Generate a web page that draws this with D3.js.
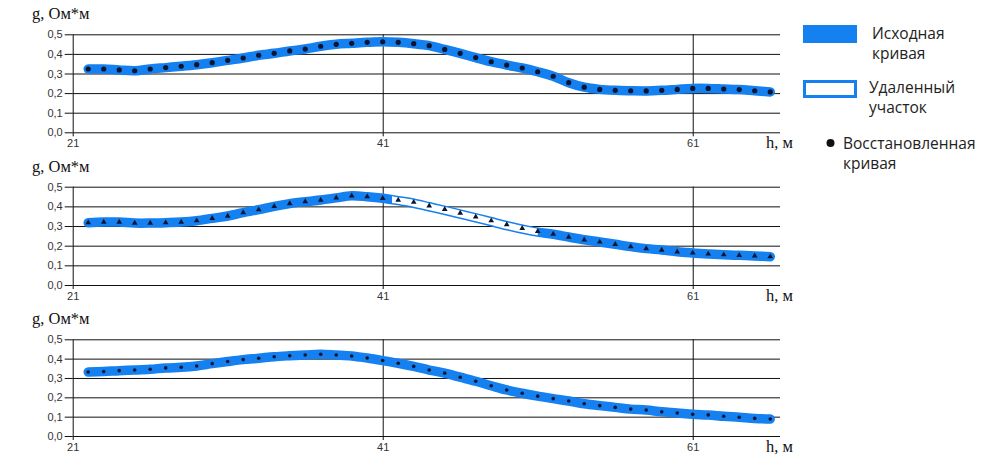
<!DOCTYPE html>
<html>
<head>
<meta charset="utf-8">
<script src="https://cdn.jsdelivr.net/npm/d3@7"></script>
<style>
  body { margin: 0; background: #fff; }
  .tick text { font-family: Arial, "Liberation Sans", sans-serif; font-size: 11px; fill: #333; }
  .serif { font-family: "Liberation Serif", "DejaVu Serif", serif; font-size: 16.5px; fill: #111; }
  .leg { font-family: "Open Sans", "Noto Sans", sans-serif; font-size: 15.5px; fill: #222; }
</style>
</head>
<body>
<svg id="chart" width="986" height="460"></svg>
<script>
// depth, m
var depth = d3.range(22, 67);

// panel 1: original curve (restored points coincide)
var orig1 = [0.323, 0.323, 0.318, 0.314, 0.323, 0.330, 0.337, 0.345, 0.355, 0.367,
  0.379, 0.393, 0.403, 0.415, 0.425, 0.439, 0.449, 0.454, 0.459, 0.462,
  0.459, 0.452, 0.442, 0.423, 0.403, 0.381, 0.360, 0.343, 0.328, 0.309,
  0.286, 0.253, 0.230, 0.219, 0.214, 0.212, 0.211, 0.214, 0.219, 0.224,
  0.224, 0.221, 0.218, 0.212, 0.206];

// panel 2: original curve
var orig2 = [0.317, 0.320, 0.320, 0.315, 0.315, 0.317, 0.320, 0.327, 0.339, 0.351,
  0.368, 0.383, 0.400, 0.414, 0.424, 0.432, 0.443, 0.454, 0.449, 0.441,
  0.429, 0.416, 0.398, 0.380, 0.361, 0.342, 0.322, 0.302, 0.284, 0.269,
  0.258, 0.244, 0.230, 0.219, 0.207, 0.195, 0.185, 0.178, 0.169, 0.163,
  0.158, 0.154, 0.151, 0.148, 0.144];
// panel 2: restored curve
var rest2 = [0.317, 0.320, 0.320, 0.315, 0.315, 0.317, 0.320, 0.327, 0.339, 0.351,
  0.368, 0.383, 0.400, 0.414, 0.424, 0.432, 0.443, 0.454, 0.449, 0.441,
  0.432, 0.421, 0.403, 0.385, 0.366, 0.347, 0.327, 0.307, 0.288, 0.273,
  0.259, 0.244, 0.230, 0.219, 0.207, 0.195, 0.185, 0.178, 0.169, 0.163,
  0.158, 0.154, 0.151, 0.148, 0.144];
// removed section of panel 2
var removed = [41.6, 51];

// panel 3: original curve (restored points coincide)
var orig3 = [0.331, 0.333, 0.338, 0.341, 0.345, 0.352, 0.355, 0.362, 0.374, 0.385,
  0.395, 0.402, 0.410, 0.415, 0.419, 0.423, 0.419, 0.414, 0.403, 0.390,
  0.376, 0.360, 0.341, 0.325, 0.304, 0.283, 0.260, 0.238, 0.221, 0.206,
  0.193, 0.181, 0.167, 0.157, 0.148, 0.139, 0.134, 0.125, 0.119, 0.112,
  0.109, 0.102, 0.097, 0.091, 0.088];

var yTicks = [0, 0.1, 0.2, 0.3, 0.4, 0.5];
var xTicks = [21, 41, 61];
var legendLabels = [["Исходная", "кривая"], ["Удаленный", "участок"], ["Восстановленная", "кривая"]];

var blue = "#1580f0";
var svg = d3.select("#chart");

var x = d3.scaleLinear().domain([21, 66.63]).range([72.7, 780]);

var panels = [
  { top: 34.3, bottom: 132.3, line: orig1, pts: orig1, marker: "circle" },
  { top: 186.7, bottom: 285, line: orig2, pts: rest2, marker: "triangle", gap: removed },
  { top: 339.3, bottom: 436, line: orig3, pts: orig3, marker: "dot" }
];

panels.forEach(function(p) {
  var y = d3.scaleLinear().domain([0, 0.5]).range([p.bottom, p.top]);
  var g = svg.append("g");

  // horizontal gridlines
  g.append("g")
    .attr("transform", "translate(" + x(21) + ",0)")
    .call(d3.axisLeft(y).tickValues(yTicks).tickSize(8)
      .tickFormat(function(d) { return d3.format(".1f")(d).replace(".", ","); }))
    .call(function(a) {
      a.select(".domain").remove();
      a.selectAll(".tick line").attr("stroke", "#111");
      a.selectAll(".tick").append("line")
        .attr("x2", x.range()[1] - x(21)).attr("stroke", "#111");
      a.selectAll(".tick text").attr("x", -10);
    });

  // vertical gridlines + x ticks
  g.append("g")
    .attr("transform", "translate(0," + p.bottom + ")")
    .call(d3.axisBottom(x).tickValues(xTicks).tickSize(4).tickFormat(d3.format("d")))
    .call(function(a) {
      a.select(".domain").remove();
      a.selectAll(".tick line").attr("stroke", "#111");
      a.selectAll(".tick").append("line")
        .attr("y2", p.top - p.bottom).attr("stroke", "#111");
      a.selectAll(".tick text").attr("y", 7);
    });

  var line = d3.line()
    .x(function(d, i) { return x(depth[i]); })
    .y(function(d) { return y(d); })
    .curve(d3.curveCatmullRom);

  g.append("path")
    .attr("d", line(p.line))
    .attr("fill", "none")
    .attr("stroke", blue)
    .attr("stroke-width", 9.5)
    .attr("stroke-linecap", "round");

  if (p.gap) {
    var cp = "clip-gap";
    svg.append("clipPath").attr("id", cp).append("rect")
      .attr("x", x(p.gap[0])).attr("width", x(p.gap[1]) - x(p.gap[0]))
      .attr("y", p.top).attr("height", p.bottom - p.top);
    g.append("path")
      .attr("d", line(p.line))
      .attr("clip-path", "url(#" + cp + ")")
      .attr("fill", "none")
      .attr("stroke", "#fff")
      .attr("stroke-width", 6.5);
  }

  var pts = g.append("g").attr("fill", "#0c1530");
  if (p.marker == "circle") {
    pts.selectAll("circle").data(p.pts).enter().append("circle")
      .attr("cx", function(d, i) { return x(depth[i]); })
      .attr("cy", function(d) { return y(d); })
      .attr("r", 2.6);
  } else if (p.marker == "triangle") {
    var tri = d3.symbol().type(d3.symbolTriangle).size(14);
    pts.selectAll("path").data(p.pts).enter().append("path")
      .attr("d", tri)
      .attr("transform", function(d, i) { return "translate(" + x(depth[i]) + "," + y(d) + ")"; });
  } else {
    pts.selectAll("circle").data(p.pts).enter().append("circle")
      .attr("cx", function(d, i) { return x(depth[i]); })
      .attr("cy", function(d) { return y(d); })
      .attr("r", 1.8);
  }

  svg.append("text").attr("class", "serif")
    .attr("x", 32).attr("y", p.top - 15)
    .text("g, Ом*м");
  svg.append("text").attr("class", "serif")
    .attr("x", 766).attr("y", p.bottom + 16)
    .text("h, м");
});

// legend
var leg = svg.append("g");
leg.append("rect").attr("x", 803).attr("y", 25).attr("width", 54).attr("height", 18)
  .attr("fill", blue);
leg.append("rect").attr("x", 804.5).attr("y", 81.5).attr("width", 51).attr("height", 15)
  .attr("fill", "#fff").attr("stroke", blue).attr("stroke-width", 3);
leg.append("circle").attr("cx", 830.5).attr("cy", 143).attr("r", 4).attr("fill", "#111");

var legPos = [[872, 39], [869, 93], [843, 149]];
legendLabels.forEach(function(l, i) {
  var t = leg.append("text").attr("class", "leg");
  l.forEach(function(s, j) {
    t.append("tspan").attr("x", legPos[i][0]).attr("y", legPos[i][1] + j * 20).text(s);
  });
});
</script>
</body>
</html>
